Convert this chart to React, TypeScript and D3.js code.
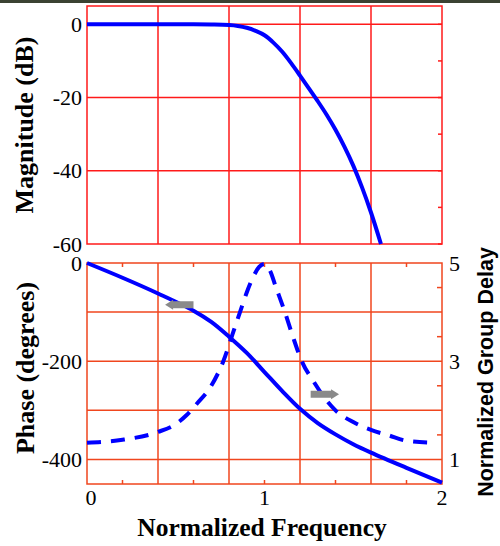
import React from 'react';
import * as d3 from 'd3';

// ---- data ----
const freqTicks = [0, 1, 2];
const magTicks = [0, -20, -40, -60];
const phaseTicks = [0, -200, -400];
const gdTicks = [5, 3, 1];

const magFreq = [0, 0.4, 0.6, 0.7, 0.8, 0.85, 0.9, 0.95, 1.0, 1.05, 1.1, 1.15, 1.2, 1.25, 1.3, 1.35, 1.4, 1.45, 1.5, 1.55, 1.6, 1.656];
const magDb = [0, 0, 0, -0.05, -0.2, -0.45, -0.95, -1.8, -3.0, -5.0, -7.5, -10.6, -14.0, -17.5, -21.0, -24.7, -28.8, -33.4, -38.6, -44.6, -51.4, -60];

const phaseFreq = [0, 0.2, 0.4, 0.6, 0.7, 0.8, 0.9, 1.0, 1.1, 1.2, 1.3, 1.4, 1.5, 1.6, 1.8, 2.0];
const phaseDeg = [0, -30, -62, -97, -120, -150, -183, -222, -261, -297, -326, -349, -369, -386, -417, -447];

const gdFreq = [0, 0.2, 0.4, 0.5, 0.56, 0.62, 0.7, 0.768, 0.82, 0.862, 0.9, 0.937, 0.97, 1.0, 1.03, 1.065, 1.115, 1.16, 1.21, 1.276, 1.35, 1.4, 1.5, 1.6, 1.7, 1.8, 1.96];
const gdVal = [1.34, 1.4, 1.56, 1.72, 1.9, 2.14, 2.5, 3.0, 3.55, 4.0, 4.4, 4.72, 4.92, 4.98, 4.85, 4.5, 4.0, 3.5, 3.0, 2.59, 2.2, 2.0, 1.76, 1.6, 1.49, 1.38, 1.34];

// annotation arrows: [freqStart, freqEnd, value]
const phaseArrow = [0.6, 0.44, -85];
const gdArrow = [1.26, 1.42, 2.33];

export default function App() {
  const W = 500, H = 546;
  const x = d3.scaleLinear().domain([0, 2]).range([87, 442]);
  const yMag = d3.scaleLinear().domain([-60, 5]).range([244, 6]);
  const yPh = d3.scaleLinear().domain([-450, 0]).range([484, 263]);
  const yGd = d3.scaleLinear().domain([0.5, 5]).range([484, 263]);

  const topRed = '#ff1a1a';
  const botRed = '#f0461e';
  const blue = '#0000ff';
  const serif = '"Liberation Serif", "Times New Roman", serif';
  const sans = '"Liberation Sans", Arial, sans-serif';

  const smooth = d3.curveCatmullRom.alpha(0.5);
  const magLine = d3.line<number>().x((_, i) => x(magFreq[i])).y(d => yMag(d)).curve(d3.curveMonotoneX)(magDb) || '';
  const phLine = d3.line<number>().x((_, i) => x(phaseFreq[i])).y(d => yPh(d)).curve(smooth)(phaseDeg) || '';
  const gdLine = d3.line<number>().x((_, i) => x(gdFreq[i])).y(d => yGd(d)).curve(d3.curveMonotoneX)(gdVal) || '';

  const vGrid = d3.range(0.4, 1.99, 0.4);
  const xMinor = d3.range(0.2, 1.99, 0.4);
  const magGrid = [0, -20, -40];
  const magMinor = d3.range(-60, 1, 10);
  const phGrid = [-100, -200, -300, -400];
  const gdMinor = [4.5, 3.5, 2.5, 1.5];

  const arrow = (x0: number, x1: number, yc: number) => {
    const dir = x1 > x0 ? 1 : -1;
    const head = 8 * dir;
    const bh = 3.5, hh = 5;
    const pts = [
      [x0, yc - bh], [x1 - head, yc - bh], [x1 - head, yc - hh], [x1, yc],
      [x1 - head, yc + hh], [x1 - head, yc + bh], [x0, yc + bh],
    ];
    return 'M' + pts.map(p => p.join(',')).join('L') + 'Z';
  };

  return (
    <svg width={W} height={H} style={{ position: 'absolute', left: 0, top: 0, background: '#fff' }}>
      <rect x={0} y={0} width={W} height={3} fill="#3b4232" />

      {/* ---- top panel: magnitude ---- */}
      <g>
        {vGrid.map(f => (
          <line key={'tv' + f} x1={x(f)} x2={x(f)} y1={yMag(5)} y2={yMag(-60)} stroke={topRed} strokeWidth={1.5} />
        ))}
        {magGrid.map(v => (
          <line key={'th' + v} x1={x(0)} x2={x(2)} y1={yMag(v)} y2={yMag(v)} stroke={topRed} strokeWidth={1.5} />
        ))}
        {magMinor.map(v => (
          <line key={'tm' + v} x1={x(2) - 4} x2={x(2)} y1={yMag(v)} y2={yMag(v)} stroke={topRed} strokeWidth={1.5} />
        ))}
        <rect x={x(0)} y={yMag(5)} width={x(2) - x(0)} height={yMag(-60) - yMag(5)} fill="none" stroke={topRed} strokeWidth={1.5} />
        <path d={magLine} fill="none" stroke={blue} strokeWidth={4} />
        {magTicks.map(v => (
          <text key={'ml' + v} x={82} y={yMag(v)} dy="0.35em" textAnchor="end" fontFamily={serif} fontSize={22} fill="#000">{v}</text>
        ))}
        <text transform={`translate(33,125) rotate(-90)`} textAnchor="middle" fontFamily={serif} fontWeight="bold" fontSize={26} fill="#000">Magnitude (dB)</text>
      </g>

      {/* ---- bottom panel: phase and group delay ---- */}
      <g>
        {vGrid.map(f => (
          <line key={'bv' + f} x1={x(f)} x2={x(f)} y1={yPh(0)} y2={yPh(-450)} stroke={botRed} strokeWidth={1.5} />
        ))}
        {phGrid.map(v => (
          <line key={'bh' + v} x1={x(0)} x2={x(2)} y1={yPh(v)} y2={yPh(v)} stroke={botRed} strokeWidth={1.5} />
        ))}
        {xMinor.map(f => (
          <g key={'bm' + f}>
            <line x1={x(f)} x2={x(f)} y1={yPh(0)} y2={yPh(0) + 4} stroke={botRed} strokeWidth={1.5} />
            <line x1={x(f)} x2={x(f)} y1={yPh(-450)} y2={yPh(-450) - 4} stroke={botRed} strokeWidth={1.5} />
          </g>
        ))}
        {gdMinor.map(v => (
          <line key={'gm' + v} x1={x(2) - 5} x2={x(2)} y1={yGd(v)} y2={yGd(v)} stroke={botRed} strokeWidth={1.5} />
        ))}
        <rect x={x(0)} y={yPh(0)} width={x(2) - x(0)} height={yPh(-450) - yPh(0)} fill="none" stroke={botRed} strokeWidth={1.5} />

        <path d={gdLine} fill="none" stroke={blue} strokeWidth={4} strokeDasharray="14,10" />
        <path d={phLine} fill="none" stroke={blue} strokeWidth={4} />

        <path d={arrow(x(phaseArrow[0]), x(phaseArrow[1]), yPh(phaseArrow[2]))} fill="#8a8a8a" />
        <path d={arrow(x(gdArrow[0]), x(gdArrow[1]), yGd(gdArrow[2]))} fill="#8a8a8a" />

        {phaseTicks.map(v => (
          <text key={'pl' + v} x={82} y={yPh(v)} dy="0.35em" textAnchor="end" fontFamily={serif} fontSize={22} fill="#000">{v}</text>
        ))}
        {gdTicks.map(v => (
          <text key={'gl' + v} x={449} y={yGd(v)} dy="0.35em" textAnchor="start" fontFamily={serif} fontSize={22} fill="#000">{v}</text>
        ))}
        {freqTicks.map((v, i) => (
          <text key={'fl' + v} x={i === 0 ? x(v) + 4 : x(v)} y={505} textAnchor="middle" fontFamily={serif} fontSize={22} fill="#000">{v}</text>
        ))}
        <text transform={`translate(34,368) rotate(-90)`} textAnchor="middle" fontFamily={serif} fontWeight="bold" fontSize={26} fill="#000">Phase (degrees)</text>
        <text x={262} y={536} textAnchor="middle" fontFamily={serif} fontWeight="bold" fontSize={25.5} fill="#000">Normalized Frequency</text>
        <text transform={`translate(493,372) rotate(-90)`} textAnchor="middle" fontFamily={sans} fontWeight="bold" fontSize={21.5} fill="#000">Normalized Group Delay</text>
      </g>
    </svg>
  );
}
